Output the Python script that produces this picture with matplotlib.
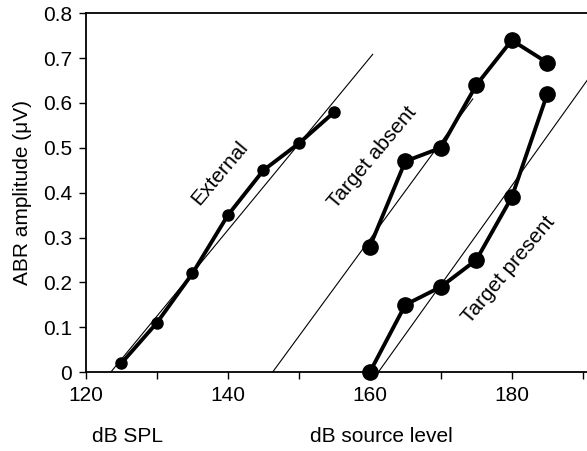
import numpy as np
import matplotlib
matplotlib.use("Agg")
import matplotlib.pyplot as plt

plt.rcParams['font.family'] = ['Liberation Sans', 'DejaVu Sans']

# measured series
ext_x = [125, 130, 135, 140, 145, 150, 155]
ext_y = [0.02, 0.11, 0.22, 0.35, 0.45, 0.51, 0.58]
absent_x = [160, 165, 170, 175, 180, 185]
absent_y = [0.28, 0.47, 0.50, 0.64, 0.74, 0.69]
present_x = [160, 165, 170, 175, 180, 185]
present_y = [0.0, 0.15, 0.19, 0.25, 0.39, 0.62]

# fitted lines (start, end) in dB and value
ext_fit_x = [123.5, 160.4]
ext_fit_y = [0.0, 0.7085]
absent_fit_x = [146.3, 174.5]
absent_fit_y = [0.0, 0.609]
present_fit_x = [161.2, 192.0]
present_fit_y = [0.0, 0.681]

fs = 15

fig = plt.figure(figsize=(5.87, 4.51), dpi=100)
ax = fig.add_axes([0.1465, 0.175, 0.8535, 0.7955])

# thin regression lines
for fx, fy in [(ext_fit_x, ext_fit_y), (absent_fit_x, absent_fit_y), (present_fit_x, present_fit_y)]:
    ax.plot(fx, fy, color='black', lw=0.8)

# data
ax.plot(ext_x, ext_y, color='black', lw=2.8, marker='o', ms=8, clip_on=False)
ax.plot(absent_x, absent_y, color='black', lw=2.8, marker='o', ms=11, clip_on=False)
ax.plot(present_x, present_y, color='black', lw=2.8, marker='o', ms=11, clip_on=False)

ax.set_xlim(120, 190.6)
ax.set_ylim(0, 0.8)
ax.set_xticks(np.arange(120, 191, 10))
ax.set_xticklabels(['120', '', '140', '', '160', '', '180', ''])
ax.set_yticks(np.arange(0, 0.81, 0.1))
ax.set_yticklabels(['0', '0.1', '0.2', '0.3', '0.4', '0.5', '0.6', '0.7', '0.8'])
ax.tick_params(direction='out', length=5, width=1, labelsize=fs, pad=5)
ax.spines['right'].set_visible(False)
for s in ['left', 'bottom', 'top']:
    ax.spines[s].set_linewidth(1.3)

ax.set_ylabel('ABR amplitude (\u03bcV)', fontsize=fs, labelpad=8)

ax.text(138.9, 0.444, 'External', rotation=50, ha='center', va='center',
        rotation_mode='anchor', fontsize=fs)
ax.text(160.3, 0.479, 'Target absent', rotation=50, ha='center', va='center',
        rotation_mode='anchor', fontsize=fs)
ax.text(179.5, 0.227, 'Target present', rotation=50, ha='center', va='center',
        rotation_mode='anchor', fontsize=fs)

fig.text(128 / 587, 1 - 437 / 451, 'dB SPL', ha='center', va='center', fontsize=fs)
fig.text(381.7 / 587, 1 - 437 / 451, 'dB source level', ha='center', va='center', fontsize=fs)

fig.savefig('out.png', dpi=100)
